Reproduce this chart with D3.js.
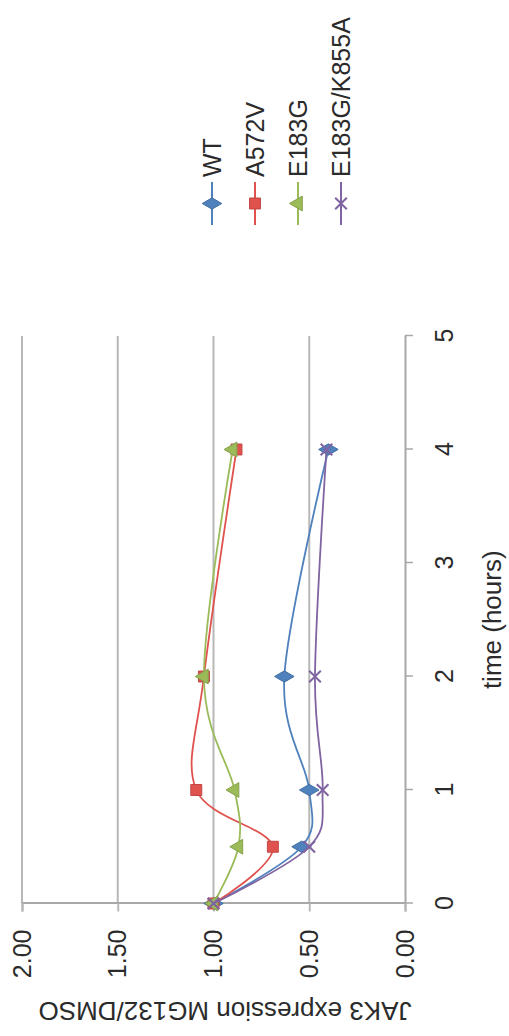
<!DOCTYPE html>
<html>
<head>
<meta charset="utf-8">
<script src="https://cdn.jsdelivr.net/npm/d3@7"></script>
<style>
    body { margin: 0; background: #fff; }
    text { font-family: "Liberation Sans", Arial, sans-serif; fill: #2b2b2b; }
</style>
</head>
<body>
<script>

// data
const times = [0, 0.5, 1, 2, 4]
const seriesNames = ['WT', 'A572V', 'E183G', 'E183G/K855A']
const wt = [1.00, 0.54, 0.50, 0.63, 0.40]
const a572v = [1.00, 0.69, 1.09, 1.05, 0.88]
const e183g = [1.00, 0.87, 0.89, 1.05, 0.90]
const e183gK855a = [1.00, 0.50, 0.43, 0.47, 0.41]
const timeTicks = [0, 1, 2, 3, 4, 5]
const valueTicks = [0, 0.5, 1, 1.5, 2]

const colors = ['#4f81bd', '#e0524e', '#9bbb59', '#8064a2']
const symbols = [d3.symbolDiamond, d3.symbolSquare, d3.symbolTriangle, d3.symbolX]

const series = [wt, a572v, e183g, e183gK855a].map((vals, i) => ({
    name: seriesNames[i],
    color: colors[i],
    symbol: symbols[i],
    points: vals.map((v, j) => ({ t: times[j], v }))
}))

// the chart is drawn sideways: built in normal orientation, then turned -90deg
const W = 1036, H = 509

const svg = d3.select('body').append('svg')
    .attr('width', H)
    .attr('height', W)

const g = svg.append('g')
    .attr('transform', `translate(0,${W}) rotate(-90)`)

const x = d3.scaleLinear().domain([0, 5]).range([132.5, 700])
const y = d3.scaleLinear().domain([0, 2]).range([405, 22])

// gridlines
g.append('g')
    .selectAll('line')
    .data(valueTicks.filter(d => d > 0))
    .join('line')
    .attr('x1', x(0)).attr('x2', x(5))
    .attr('y1', d => y(d)).attr('y2', d => y(d))
    .attr('stroke', '#b8b8b8')
    .attr('stroke-width', 2)

// y axis
const yAxis = g.append('g')
    .attr('transform', `translate(${x(0)},0)`)
    .call(d3.axisLeft(y).tickValues(valueTicks).tickFormat(d3.format('.2f')).tickSize(8).tickPadding(18))
yAxis.select('.domain').attr('stroke', '#a8a8a8').attr('stroke-width', 2)
yAxis.selectAll('.tick line').attr('stroke', '#b8b8b8').attr('stroke-width', 2)
yAxis.selectAll('.tick text').attr('font-size', 25).attr('fill', '#2b2b2b')
    .style('font-family', '"Liberation Sans", Arial, sans-serif')

// x axis
const xAxis = g.append('g')
    .attr('transform', `translate(0,${y(0)})`)
    .call(d3.axisBottom(x).tickValues(timeTicks).tickFormat(d3.format('d')).tickSize(8).tickPadding(22).tickSizeOuter(0))
xAxis.select('.domain').attr('stroke', '#a8a8a8').attr('stroke-width', 2)
xAxis.selectAll('.tick line').attr('stroke', '#a8a8a8').attr('stroke-width', 1.5)
xAxis.selectAll('.tick text').attr('font-size', 25).attr('fill', '#2b2b2b')
    .style('font-family', '"Liberation Sans", Arial, sans-serif')

// axis titles
g.append('text')
    .attr('x', (x(0) + x(5)) / 2)
    .attr('y', 501)
    .attr('text-anchor', 'middle')
    .attr('font-size', 26)
    .text('time (hours)')

g.append('text')
    .attr('transform', 'translate(34,225) rotate(-90)')
    .attr('text-anchor', 'middle')
    .attr('font-size', 26)
    .text('JAK3 expression MG132/DMSO')

// lines + markers
const line = d3.line()
    .x(d => x(d.t))
    .y(d => y(d.v))
    .curve(d3.curveCatmullRom.alpha(0))

const sg = g.append('g')
    .selectAll('g')
    .data(series)
    .join('g')

sg.append('path')
    .attr('d', d => line(d.points))
    .attr('fill', 'none')
    .attr('stroke', d => d.color)
    .attr('stroke-width', 1.8)

function drawMarker(sel, s) {
    if (s.symbol === d3.symbolX) {
        sel.attr('d', d3.symbol(s.symbol, 90))
            .attr('fill', 'none')
            .attr('stroke', s.color)
            .attr('stroke-width', 2)
    } else {
        const size = s.symbol === d3.symbolSquare ? 120 : s.symbol === d3.symbolTriangle ? 95 : 110
        sel.attr('d', d3.symbol(s.symbol, size))
            .attr('fill', s.color)
            .attr('stroke', d3.color(s.color).darker(0.4))
            .attr('stroke-width', 1)
    }
}

sg.each(function (s) {
    d3.select(this).selectAll('path.pt')
        .data(s.points)
        .join('path')
        .attr('class', 'pt')
        .attr('transform', d => `translate(${x(d.t)},${y(d.v)})`)
        .call(drawMarker, s)
})

// legend
const legend = g.append('g')
    .selectAll('g')
    .data(series)
    .join('g')
    .attr('transform', (d, i) => `translate(811,${212 + i * 43})`)

legend.append('line')
    .attr('x1', 0).attr('x2', 43)
    .attr('stroke', d => d.color)
    .attr('stroke-width', 2)

legend.append('path')
    .attr('transform', 'translate(21.5,0)')
    .each(function (s) { d3.select(this).call(drawMarker, s) })

legend.append('text')
    .attr('x', 48)
    .attr('dy', '0.36em')
    .attr('font-size', 25)
    .text(d => d.name)

</script>
</body>
</html>
